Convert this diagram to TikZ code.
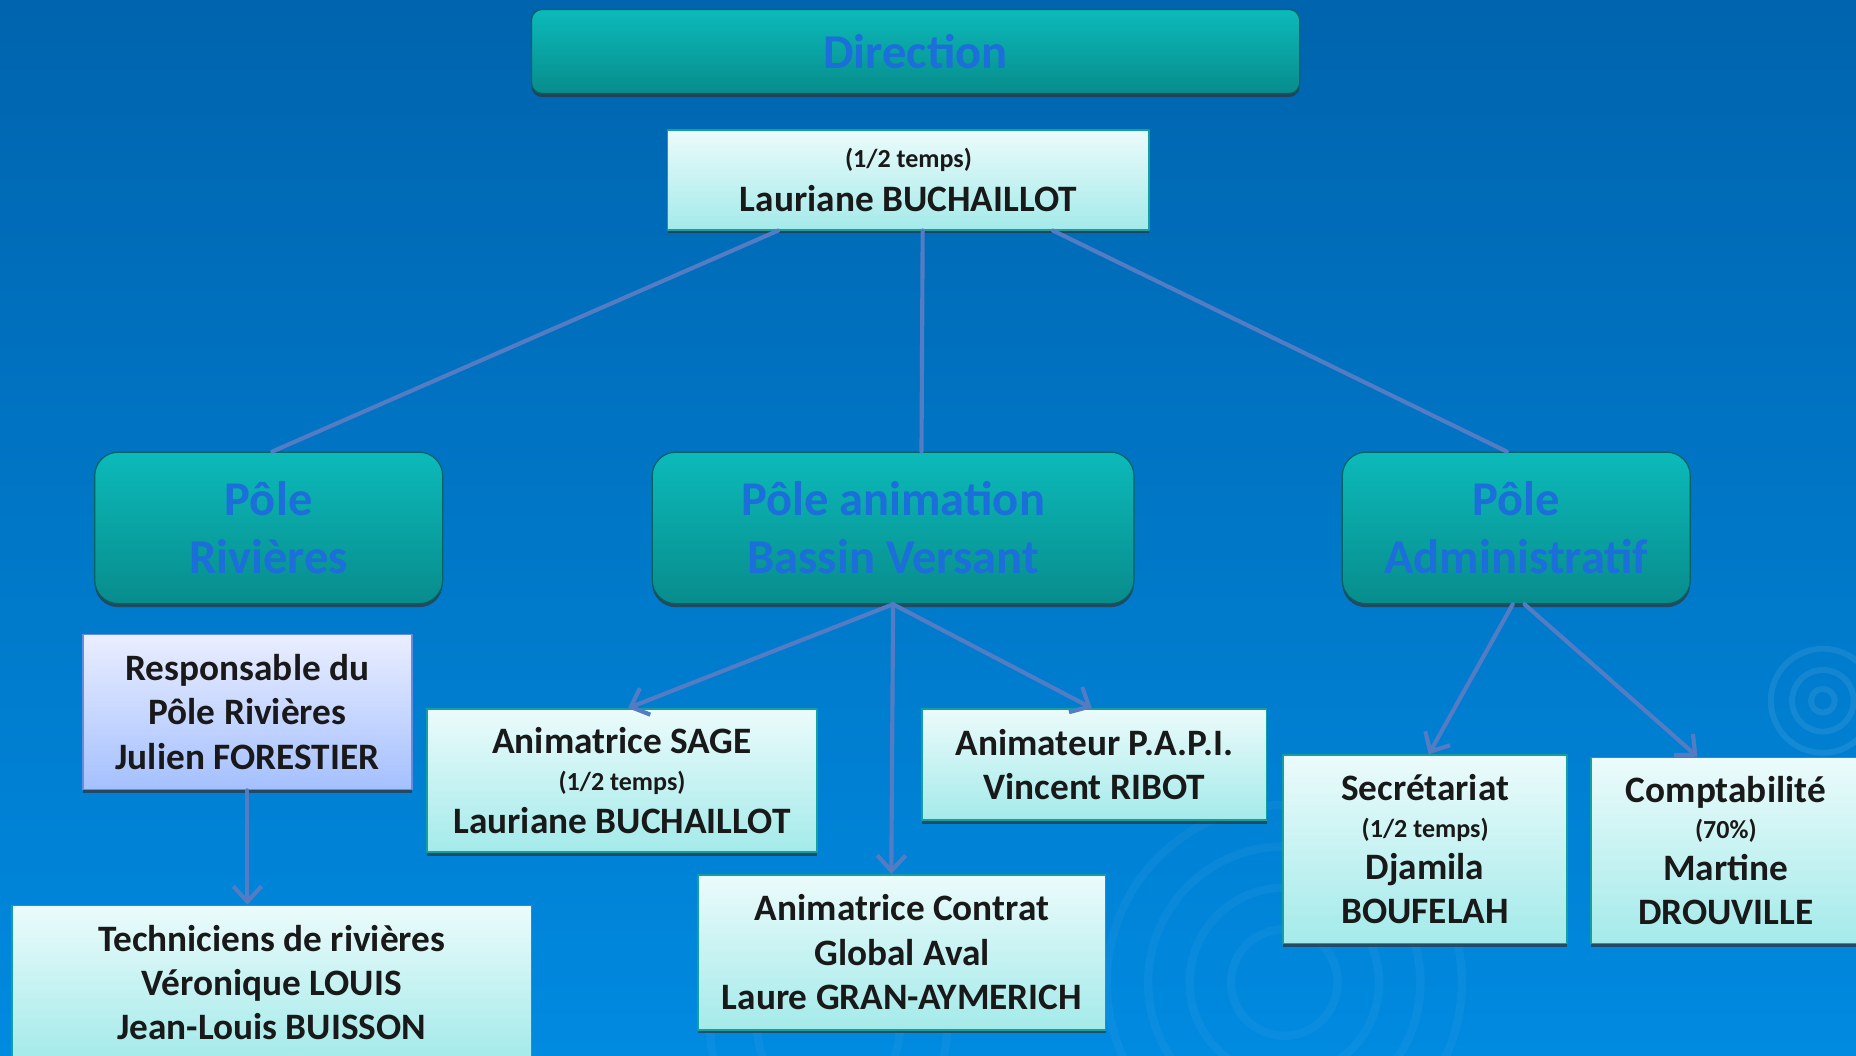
\documentclass[tikz,border=0pt]{standalone}
\usepackage{fontspec}
\setmainfont{Carlito}
\usetikzlibrary{arrows.meta,shadows}
\definecolor{bgtop}{RGB}{0,100,174}
\definecolor{bgbot}{RGB}{0,138,224}
\definecolor{teallt}{RGB}{12,186,186}
\definecolor{tealdk}{RGB}{8,140,140}
\definecolor{poletxt}{RGB}{28,110,218}
\definecolor{boxtop}{RGB}{236,251,251}
\definecolor{boxbot}{RGB}{164,234,234}
\definecolor{boxline}{RGB}{20,160,160}
\definecolor{resptop}{RGB}{234,238,255}
\definecolor{respbot}{RGB}{164,192,255}
\definecolor{respline}{RGB}{100,140,224}
\definecolor{linkblue}{RGB}{84,124,196}
\newcommand\petit[1]{{\fontsize{22}{26}\selectfont #1}}
\begin{document}
\begin{tikzpicture}[x=1pt,y=-1pt,line join=round,line cap=round,
	font=\bfseries\fontsize{31.5}{37.5}\selectfont,
	shade/.style={drop shadow={shadow xshift=0pt,shadow yshift=-3pt,opacity=0.7,fill=black!80}},
	pole/.style={shade,rounded corners=20pt,draw=tealdk!70!black,line width=1pt,top color=teallt,bottom color=tealdk,text=poletxt,font=\bfseries\fontsize{41}{49}\selectfont,align=center,inner sep=0pt},
	person/.style={shade,draw=boxline,line width=1.5pt,top color=boxtop,bottom color=boxbot,text=black!90,align=center,inner sep=0pt},
	link/.style={draw=linkblue,line width=3.5pt},
	>={Straight Barb[length=13pt,width=24pt,line width=3.5pt]}]
	\def\W{1568}
	\def\H{891.3}
	\clip (0,0) rectangle (\W,\H);
	\useasboundingbox (0,0) rectangle (\W,\H);
	\fill [top color=bgtop,bottom color=bgbot] (0,0) rectangle (\W,\H);
	\foreach \r in {10,26,44}
		\draw [white,opacity=0.08,line width=5pt] (1540,592) circle (\r pt);
	\foreach \r in {45,80,115,150}
		\draw [white,opacity=0.04,line width=7pt] (1085,830) circle (\r pt);
	\foreach \r in {60,100}
		\draw [white,opacity=0.04,line width=7pt] (700,870) circle (\r pt);
	\node [pole,rounded corners=9pt,minimum width=649pt,minimum height=71pt] (dir) at (773.5,43.5) {Direction};
	\node [person,minimum width=407pt,minimum height=84pt] (lb) at (767.5,152) {\petit{(1/2 temps)}\\[-1pt]Lauriane BUCHAILLOT};
	\node [pole,minimum width=294pt,minimum height=128pt] (pr) at (227,446) {Pôle\\Rivières};
	\node [pole,minimum width=407pt,minimum height=128pt] (pa) at (754.5,446) {Pôle animation\\Bassin Versant};
	\node [pole,minimum width=294pt,minimum height=128pt] (pad) at (1281,446) {Pôle\\Administratif};
	\node [person,draw=respline,top color=resptop,bottom color=respbot,minimum width=278pt,minimum height=131pt] (resp) at (209,601.5) {Responsable du\\Pôle Rivières\\Julien FORESTIER};
	\node [person,minimum width=439pt,minimum height=130pt] (tech) at (229.5,830) {Techniciens de rivières\\Véronique LOUIS\\Jean-Louis BUISSON};
	\node [person,minimum width=329pt,minimum height=121pt] (sage) at (525.5,659.5) {Animatrice SAGE\\[-7pt]\petit{(1/2 temps)}\\[-1pt]Lauriane BUCHAILLOT};
	\node [person,minimum width=291pt,minimum height=94pt] (papi) at (924.5,646) {Animateur P.A.P.I.\\Vincent RIBOT};
	\node [person,minimum width=344pt,minimum height=131pt] (contrat) at (762,804.5) {Animatrice Contrat\\Global Aval\\Laure GRAN-AYMERICH};
	\node [person,minimum width=240pt,minimum height=159pt] (sec) at (1204,717.5) {Secrétariat\\[-7pt]\petit{(1/2 temps)}\\[-2pt]Djamila\\BOUFELAH};
	\node [person,minimum width=228pt,minimum height=157pt] (compt) at (1458,718.5) {Comptabilité\\[-7pt]\petit{(70\%)}\\[-2pt]Martine\\DROUVILLE};
	\draw [link] ([xshift=-110pt]lb.south) -- ([xshift=3pt]pr.north);
	\draw [link] ([xshift=12pt]lb.south) -- ([xshift=24pt]pa.north);
	\draw [link] ([xshift=122pt]lb.south) -- ([xshift=-8pt]pad.north);
	\draw [link,->] (pa.south) -- ([xshift=5pt]sage.north);
	\draw [link,->] (pa.south) -- ([xshift=-9pt]contrat.north);
	\draw [link,->] (pa.south) -- ([xshift=-2pt]papi.north);
	\draw [link,->] ([xshift=-3pt]pad.south) -- ([xshift=3pt]sec.north);
	\draw [link,->] ([xshift=7pt]pad.south) -- ([xshift=-24pt]compt.north);
	\draw [link,->] (resp.south) -- (resp.south |- tech.north);
\end{tikzpicture}
\end{document}
